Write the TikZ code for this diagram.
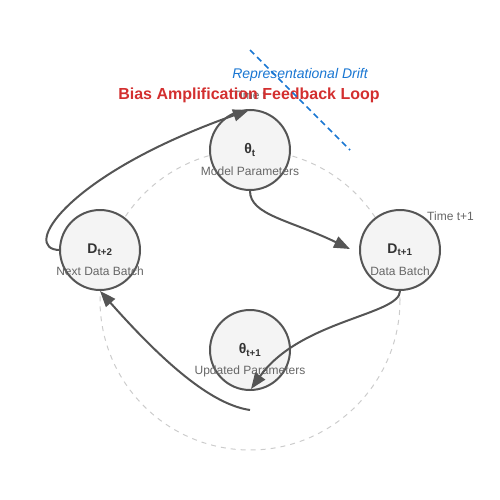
\documentclass[tikz,border=0pt]{standalone}
\usepackage{fontspec}
\setmainfont{Liberation Sans}
\usetikzlibrary{arrows.meta}
\definecolor{edge}{HTML}{555555}
\definecolor{nfill}{HTML}{F4F4F4}
\definecolor{ttl}{HTML}{D32F2F}
\definecolor{drift}{HTML}{1976D2}
\definecolor{sub}{HTML}{666666}
\definecolor{main}{HTML}{333333}
\definecolor{orbit}{HTML}{CCCCCC}
\tikzset{
  state/.style={circle,draw=edge,fill=nfill,line width=2pt,minimum size=80pt,inner sep=0pt},
  sym/.style={font=\fontsize{14}{16}\selectfont\bfseries,text=main},
  captxt/.style={font=\fontsize{12}{14}\selectfont,text=sub},
  flow/.style={draw=edge,line width=2pt,-{Triangle[length=16pt,width=12pt]}},
}
\begin{document}
\begin{tikzpicture}[x=1pt,y=-1pt]
\useasboundingbox (0,0) rectangle (500,500);
\draw[orbit,dash pattern=on 5pt off 5pt,line width=1pt] (250,300) circle[radius=150];
\node[state] (top) at (250,150) {};
\node[state] (right) at (400,250) {};
\node[state] (bot) at (250,350) {};
\node[state] (left) at (100,250) {};
\node[sym] (topS) at (250,150) {θ\textsubscript{t}};
\node[captxt] (topC) at (250,171) {Model Parameters};
\node[sym] (rightS) at (400,250) {D\textsubscript{t+1}};
\node[captxt] (rightC) at (400,271) {Data Batch};
\node[sym] (botS) at (250,350) {θ\textsubscript{t+1}};
\node[captxt] (botC) at (250,371) {Updated Parameters};
\node[sym] (leftS) at (100,250) {D\textsubscript{t+2}};
\node[captxt] (leftC) at (100,271) {Next Data Batch};
\node[captxt,anchor=west,inner sep=0pt] (tt) at (233,95) {Time t};
\node[captxt,anchor=west,inner sep=0pt] (tt1) at (427,216) {Time t+1};
\node[font=\fontsize{16}{18}\selectfont\bfseries,text=ttl] (title) at (249,95) {Bias Amplification Feedback Loop};
\draw[drift,dash pattern=on 6pt off 4pt,line width=1.5pt] (250,50) -- (350,150);
\node[font=\fontsize{14}{16}\selectfont\itshape,text=drift] (dr) at (300,75) {Representational Drift};
\coordinate (a1) at (350,249);
\coordinate (a2) at (251,389);
\coordinate (s3) at (250,410);
\coordinate (a3) at (100,291);
\coordinate (s4) at (60,250);
\coordinate (a4) at (249,110);
\draw[flow] (top.south) .. controls (250,215) and (290,220) .. (a1);
\draw[flow] (right.south) .. controls (400,315) and (300,320) .. (a2);
\draw[flow] (s3) .. controls (215,405) and (170,370) .. (a3);
\draw[flow] (s4) .. controls (20,250) and (65,175) .. (a4);
\end{tikzpicture}
\end{document}
